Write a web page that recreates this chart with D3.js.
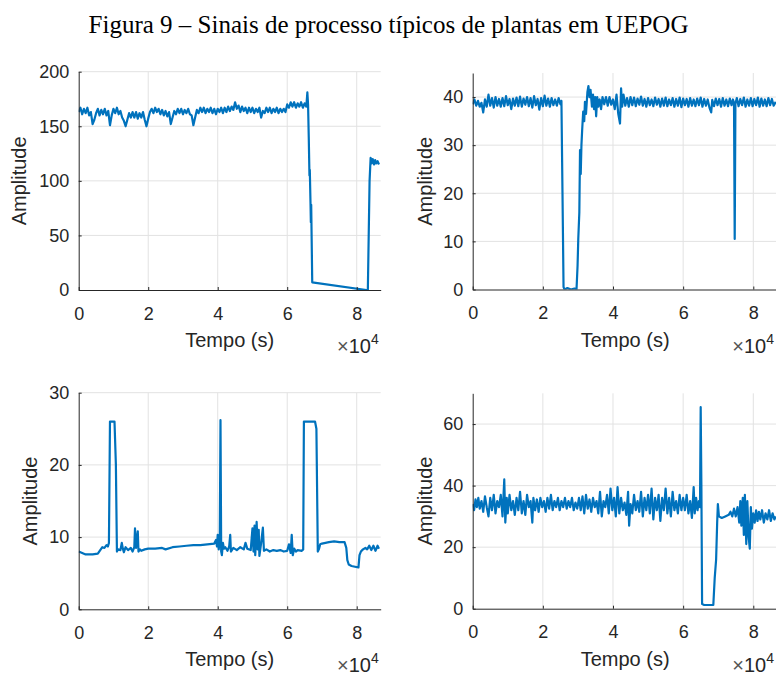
<!DOCTYPE html>
<html>
<head>
<meta charset="utf-8">
<script src="https://cdn.jsdelivr.net/npm/d3@7"></script>
<style>
  html, body { margin: 0; padding: 0; background: #fff; }
  svg { display: block; }
</style>
</head>
<body>
<svg id="chart" width="776" height="675"></svg>
<script>
// ---- DATA (time in units of 10^4 s) ----
const titleText = "Figura 9 – Sinais de processo típicos de plantas em UEPOG";
const xLabel = "Tempo (s)";
const yLabel = "Amplitude";
const xTicks = [0, 2, 4, 6, 8];
const xMax = 8.69;

const yTicks1 = [0, 50, 100, 150, 200];
const yTicks2 = [0, 10, 20, 30, 40];
const yTicks3 = [0, 10, 20, 30];
const yTicks4 = [0, 20, 40, 60];
const yMax = [200, 45, 30, 70];

const s1 = [[0,163],[0.05,167],[0.1,161],[0.15,166],[0.2,162],[0.25,167],[0.3,160],[0.35,163],[0.4,152],[0.45,156],[0.5,162],[0.55,166],[0.6,160],[0.65,165],[0.7,161],[0.75,166],[0.8,160],[0.85,164],[0.9,151],[0.95,160],[1.0,166],[1.05,162],[1.1,167],[1.15,161],[1.2,164],[1.25,158],[1.3,155],[1.35,150],[1.4,156],[1.45,162],[1.5,158],[1.55,163],[1.6,158],[1.65,163],[1.7,157],[1.75,162],[1.8,158],[1.85,163],[1.9,156],[1.95,150],[2.0,157],[2.05,163],[2.1,166],[2.15,162],[2.2,167],[2.25,163],[2.3,166],[2.35,161],[2.4,165],[2.45,160],[2.5,164],[2.55,159],[2.6,163],[2.65,152],[2.7,158],[2.75,164],[2.8,161],[2.85,166],[2.9,162],[2.95,166],[3.0,161],[3.05,165],[3.1,162],[3.15,166],[3.2,161],[3.25,160],[3.3,151],[3.35,158],[3.4,165],[3.45,162],[3.5,167],[3.55,163],[3.6,167],[3.65,162],[3.7,166],[3.75,163],[3.8,167],[3.85,162],[3.9,166],[3.95,161],[4.0,166],[4.05,163],[4.1,167],[4.15,162],[4.2,167],[4.25,163],[4.3,168],[4.35,164],[4.4,168],[4.45,165],[4.5,172],[4.55,166],[4.6,169],[4.65,163],[4.7,168],[4.75,164],[4.8,167],[4.85,162],[4.9,167],[4.95,163],[5.0,167],[5.05,162],[5.1,166],[5.15,163],[5.2,167],[5.25,158],[5.3,164],[5.35,162],[5.4,167],[5.45,163],[5.5,167],[5.55,162],[5.6,166],[5.65,163],[5.7,167],[5.75,162],[5.8,166],[5.85,163],[5.9,166],[5.95,163],[6.0,170],[6.05,167],[6.1,172],[6.15,168],[6.2,172],[6.25,167],[6.3,171],[6.35,168],[6.4,172],[6.45,167],[6.5,171],[6.55,168],[6.58,181],[6.6,170],[6.62,140],[6.64,105],[6.65,110],[6.67,80],[6.68,62],[6.69,78],[6.72,7],[8.28,0],[8.32,0],[8.37,100],[8.4,121],[8.43,116],[8.46,120],[8.5,115],[8.53,119],[8.56,116],[8.6,118],[8.64,115]];

const s2 = [[0,38.5],[0.05,39.5],[0.1,38.2],[0.15,39.2],[0.2,38.0],[0.25,38.8],[0.3,36.8],[0.35,39.5],[0.4,38.0],[0.45,40.5],[0.5,38.2],[0.55,39.8],[0.6,37.8],[0.65,40.0],[0.7,38.2],[0.75,39.6],[0.8,38.0],[0.85,39.8],[0.9,38.1],[0.95,40.2],[1.0,38.3],[1.05,39.6],[1.1,37.5],[1.15,39.7],[1.2,38.2],[1.25,39.9],[1.3,38.1],[1.35,40.1],[1.4,38.0],[1.45,39.7],[1.5,38.4],[1.55,40.0],[1.6,38.1],[1.65,39.8],[1.7,37.8],[1.75,40.2],[1.8,38.3],[1.85,39.6],[1.9,37.4],[1.95,39.8],[2.0,38.1],[2.05,40.3],[2.1,38.2],[2.15,39.7],[2.2,38.0],[2.25,39.8],[2.3,38.3],[2.35,39.5],[2.4,38.2],[2.45,39.8],[2.5,38.5],[2.53,39.2],[2.56,20],[2.59,0.5],[2.62,0],[2.7,0.3],[2.8,0],[2.9,0.2],[2.96,0],[2.99,5],[3.01,10.5],[3.04,16],[3.06,29],[3.08,24],[3.1,30],[3.12,33],[3.15,37],[3.18,35],[3.2,39],[3.23,36.5],[3.27,41],[3.3,42.3],[3.33,40],[3.36,41.5],[3.4,38],[3.43,40.5],[3.46,37.5],[3.49,40],[3.52,36],[3.55,40],[3.58,38],[3.62,39.5],[3.66,37.5],[3.7,40],[3.75,38.5],[3.8,40],[3.85,38.2],[3.9,40],[3.95,38.4],[4.0,39.5],[4.05,37.5],[4.1,40.5],[4.15,36.5],[4.2,34.5],[4.23,41.8],[4.26,38],[4.3,40.5],[4.35,38.2],[4.4,39.8],[4.45,38],[4.5,40],[4.55,38.3],[4.6,39.9],[4.65,38.1],[4.7,39.7],[4.75,38.4],[4.8,40.1],[4.85,38.2],[4.9,39.6],[4.95,38.0],[5.0,39.8],[5.05,38.3],[5.1,39.5],[5.15,38.1],[5.2,39.9],[5.25,38.4],[5.3,39.6],[5.35,38.0],[5.4,39.7],[5.45,38.2],[5.5,39.9],[5.55,38.1],[5.6,39.5],[5.65,38.3],[5.7,39.8],[5.75,38.0],[5.8,39.6],[5.85,38.2],[5.9,39.9],[5.95,37.9],[6.0,39.7],[6.05,38.3],[6.1,39.6],[6.15,38.0],[6.2,39.8],[6.25,38.2],[6.3,39.5],[6.35,38.1],[6.4,39.7],[6.45,38.3],[6.5,39.9],[6.55,38.0],[6.6,39.6],[6.65,38.2],[6.7,39.5],[6.75,37.8],[6.8,36.8],[6.83,39.4],[6.88,38.1],[6.93,39.7],[6.98,38.3],[7.03,39.6],[7.08,38.0],[7.13,39.8],[7.18,38.2],[7.23,39.5],[7.28,38.1],[7.33,39.7],[7.38,38.3],[7.42,39.5],[7.45,38.8],[7.47,10.5],[7.49,38.6],[7.53,39.8],[7.58,38.1],[7.63,39.6],[7.68,38.3],[7.73,39.9],[7.78,38.0],[7.83,39.5],[7.88,38.2],[7.93,39.8],[7.98,38.1],[8.03,39.6],[8.08,38.3],[8.13,39.9],[8.18,38.0],[8.23,39.7],[8.28,38.2],[8.33,39.5],[8.38,38.1],[8.43,39.8],[8.48,38.3],[8.53,39.6],[8.58,38.2],[8.64,39.0]];

const s3 = [[0,8.0],[0.1,7.8],[0.2,7.6],[0.4,7.6],[0.55,7.7],[0.62,8.2],[0.68,8.6],[0.74,8.5],[0.8,8.9],[0.84,8.7],[0.87,9.2],[0.9,26],[0.95,26],[1.03,26],[1.07,20],[1.1,8],[1.13,8.3],[1.2,8.2],[1.24,9.2],[1.27,8.4],[1.3,7.9],[1.35,8.6],[1.42,8.2],[1.5,8.5],[1.55,8.0],[1.6,8.6],[1.62,11.2],[1.65,8.5],[1.7,10.8],[1.72,8.0],[1.76,8.3],[1.8,8.1],[1.9,8.3],[2.0,8.4],[2.2,8.4],[2.4,8.5],[2.5,8.3],[2.7,8.6],[2.9,8.7],[3.1,8.8],[3.3,8.9],[3.5,8.9],[3.7,9.0],[3.9,9.1],[3.95,9.6],[3.98,8.7],[4.0,10.3],[4.03,8.3],[4.06,9.8],[4.08,26.2],[4.1,8.0],[4.12,7.5],[4.15,9.2],[4.18,8.4],[4.22,8.6],[4.28,8.1],[4.33,8.7],[4.36,10.3],[4.38,8.0],[4.45,8.5],[4.55,8.2],[4.65,8.6],[4.75,8.3],[4.8,9.2],[4.85,8.4],[4.95,8.2],[5.0,11.2],[5.03,8.0],[5.06,11.6],[5.08,7.5],[5.12,12.1],[5.15,8.3],[5.18,11.0],[5.2,7.4],[5.25,9.2],[5.3,11.3],[5.33,8.1],[5.4,8.3],[5.5,8.0],[5.6,8.2],[5.7,8.1],[5.8,8.2],[5.9,8.0],[6.0,8.1],[6.05,9.0],[6.1,7.8],[6.13,10.3],[6.16,7.5],[6.2,8.4],[6.25,8.0],[6.3,8.2],[6.42,8.1],[6.46,8.3],[6.48,26],[6.55,26],[6.7,26],[6.8,26],[6.84,25],[6.88,8],[6.91,8.3],[6.95,9.0],[7.0,9.1],[7.1,9.2],[7.2,9.3],[7.35,9.4],[7.5,9.3],[7.65,9.3],[7.7,8.5],[7.73,6.8],[7.77,6.2],[7.85,6.0],[7.95,5.9],[8.05,5.8],[8.08,7.5],[8.12,8.0],[8.18,8.3],[8.25,8.5],[8.3,8.3],[8.36,8.8],[8.42,8.2],[8.48,8.8],[8.54,8.1],[8.6,8.8],[8.64,8.4]];

const s4 = [[0,34],[0.04,32],[0.08,35.5],[0.12,33],[0.16,36],[0.2,32.5],[0.25,35],[0.3,31.5],[0.35,36.5],[0.4,33],[0.45,30],[0.5,36],[0.55,32],[0.6,37],[0.65,31],[0.7,35],[0.75,33],[0.8,37],[0.85,30],[0.9,42],[0.93,28],[0.97,36],[1.0,31],[1.05,37],[1.1,32],[1.15,35],[1.2,30.5],[1.25,36],[1.3,32],[1.35,38],[1.4,31],[1.45,35],[1.5,30.5],[1.55,37],[1.6,33],[1.65,35],[1.7,28],[1.73,36],[1.78,32],[1.83,35.5],[1.88,31.5],[1.93,36],[1.98,33],[2.03,35],[2.08,31.5],[2.13,36],[2.18,32.5],[2.23,37],[2.28,32],[2.33,35],[2.38,33],[2.43,36],[2.48,32],[2.53,35],[2.58,33],[2.63,36],[2.68,32.5],[2.73,35],[2.78,33],[2.83,36],[2.88,32],[2.93,34.5],[2.98,32.5],[3.03,36],[3.08,32],[3.13,36.5],[3.18,31],[3.23,37],[3.28,32.5],[3.33,35.5],[3.38,31.5],[3.43,36],[3.48,33],[3.53,35],[3.58,31],[3.63,38],[3.68,30],[3.73,35],[3.78,33],[3.83,37],[3.88,31],[3.93,39],[3.98,32],[4.03,36],[4.08,30],[4.13,39.5],[4.18,31],[4.23,36],[4.28,32],[4.33,34.5],[4.38,30.5],[4.43,38],[4.46,27],[4.5,34],[4.55,31],[4.6,37],[4.65,32],[4.7,35],[4.75,31.5],[4.8,38],[4.85,30],[4.9,36],[4.95,32],[5.0,37],[5.05,31],[5.1,39],[5.15,29],[5.2,36],[5.25,32],[5.3,37],[5.35,28.5],[5.4,36],[5.45,32],[5.5,39],[5.55,31],[5.6,36],[5.65,30],[5.7,38],[5.75,32],[5.8,35],[5.85,31],[5.9,37],[5.95,32],[6.0,36],[6.05,32],[6.1,37],[6.15,31],[6.2,35],[6.25,29.5],[6.3,39.5],[6.33,31],[6.37,36],[6.41,32],[6.45,35],[6.48,33],[6.5,65.5],[6.52,40],[6.54,1.5],[6.6,1.2],[6.7,1.2],[6.8,1.2],[6.86,1.2],[6.9,10],[6.94,16],[6.97,28],[6.99,34],[7.02,30],[7.1,29.5],[7.2,30],[7.3,30.5],[7.35,31.5],[7.4,30],[7.45,32.5],[7.5,30],[7.55,33],[7.6,28],[7.63,35],[7.66,27],[7.7,36],[7.73,24],[7.76,37],[7.8,21],[7.83,35],[7.87,23],[7.9,19.5],[7.93,33],[7.96,26],[8.0,31],[8.04,28],[8.08,32],[8.12,28.5],[8.16,31.5],[8.2,29],[8.25,32],[8.3,28],[8.35,31],[8.4,29],[8.45,32],[8.5,28.5],[8.55,31],[8.6,29],[8.64,30]];

// ---- LAYOUT ----
const panels = [
  { data: s1, yTicks: yTicks1, yMax: yMax[0], left: 78.7, top: 71.7, right: 380.7, bottom: 290,   ylabX: 26 },
  { data: s2, yTicks: yTicks2, yMax: yMax[1], left: 472.7, top: 73,  right: 777.5, bottom: 289.5, ylabX: 432 },
  { data: s3, yTicks: yTicks3, yMax: yMax[2], left: 78.7, top: 392.7, right: 380.7, bottom: 609.3, ylabX: 37 },
  { data: s4, yTicks: yTicks4, yMax: yMax[3], left: 472.7, top: 393.3, right: 777.5, bottom: 608.7, ylabX: 432 }
];

const svg = d3.select("#chart");
const lineColor = "#0072BD";
const axisColor = "#262626";
const gridColor = "#e2e2e2";
const sans = "'Liberation Sans', Arial, Helvetica, sans-serif";

svg.append("text")
  .attr("x", 388.5).attr("y", 33)
  .attr("text-anchor", "middle")
  .attr("font-family", "'Liberation Serif', 'Times New Roman', serif")
  .attr("font-size", 25)
  .attr("fill", "#000")
  .text(titleText);

panels.forEach((p, i) => {
  const x = d3.scaleLinear().domain([0, xMax]).range([p.left, p.right]);
  const y = d3.scaleLinear().domain([0, p.yMax]).range([p.bottom, p.top]);
  const g = svg.append("g");

  // grid
  g.append("g").selectAll("line.vg").data(xTicks.filter(d => d > 0)).join("line")
    .attr("x1", d => x(d)).attr("x2", d => x(d))
    .attr("y1", p.top).attr("y2", p.bottom)
    .attr("stroke", gridColor).attr("stroke-width", 1);
  g.append("g").selectAll("line.hg").data(p.yTicks.filter(d => d > 0)).join("line")
    .attr("x1", p.left).attr("x2", Math.min(p.right, 776))
    .attr("y1", d => y(d)).attr("y2", d => y(d))
    .attr("stroke", gridColor).attr("stroke-width", 1);

  // clip
  const cid = "clip" + i;
  svg.append("clipPath").attr("id", cid).append("rect")
    .attr("x", p.left).attr("y", p.top - 2)
    .attr("width", p.right - p.left).attr("height", p.bottom - p.top + 2);

  // line
  const line = d3.line().x(d => x(d[0])).y(d => y(d[1]));
  g.append("path")
    .datum(p.data)
    .attr("clip-path", `url(#${cid})`)
    .attr("fill", "none")
    .attr("stroke", lineColor)
    .attr("stroke-width", 2.2)
    .attr("stroke-linejoin", "round")
    .attr("d", line);

  // axes
  const xAxis = d3.axisBottom(x).tickValues(xTicks).tickSizeInner(-3).tickSizeOuter(0).tickPadding(17)
    .tickFormat(d3.format("d"));
  const gx = g.append("g").attr("transform", `translate(0,${p.bottom})`).call(xAxis);
  const yAxis = d3.axisLeft(y).tickValues(p.yTicks).tickSizeInner(-3).tickSizeOuter(0).tickPadding(9.5)
    .tickFormat(d3.format("d"));
  const gy = g.append("g").attr("transform", `translate(${p.left},0)`).call(yAxis);

  [gx, gy].forEach(a => {
    a.select(".domain").attr("stroke", axisColor).attr("stroke-width", 1);
    a.selectAll(".tick line").attr("stroke", axisColor);
    a.selectAll(".tick text").attr("fill", axisColor)
      .attr("font-family", sans).attr("font-size", 18);
  });

  // axis labels
  g.append("text")
    .attr("x", (p.left + p.right) / 2).attr("y", p.bottom + 57)
    .attr("text-anchor", "middle")
    .attr("font-family", sans).attr("font-size", 20).attr("fill", axisColor)
    .text(xLabel);
  g.append("text")
    .attr("transform", `translate(${p.ylabX},${(p.top + p.bottom) / 2}) rotate(-90)`)
    .attr("text-anchor", "middle")
    .attr("font-family", sans).attr("font-size", 20).attr("fill", axisColor)
    .text(yLabel);

  // exponent label
  const ex = g.append("text")
    .attr("x", Math.min(p.right, 776) - 2).attr("y", p.bottom + 63)
    .attr("text-anchor", "end")
    .attr("font-family", sans).attr("font-size", 20).attr("fill", axisColor);
  ex.append("tspan").attr("fill", "#555").text("×");
  ex.append("tspan").text("10");
  ex.append("tspan").attr("dy", -9).attr("font-size", 14).text("4");
});
</script>
</body>
</html>
